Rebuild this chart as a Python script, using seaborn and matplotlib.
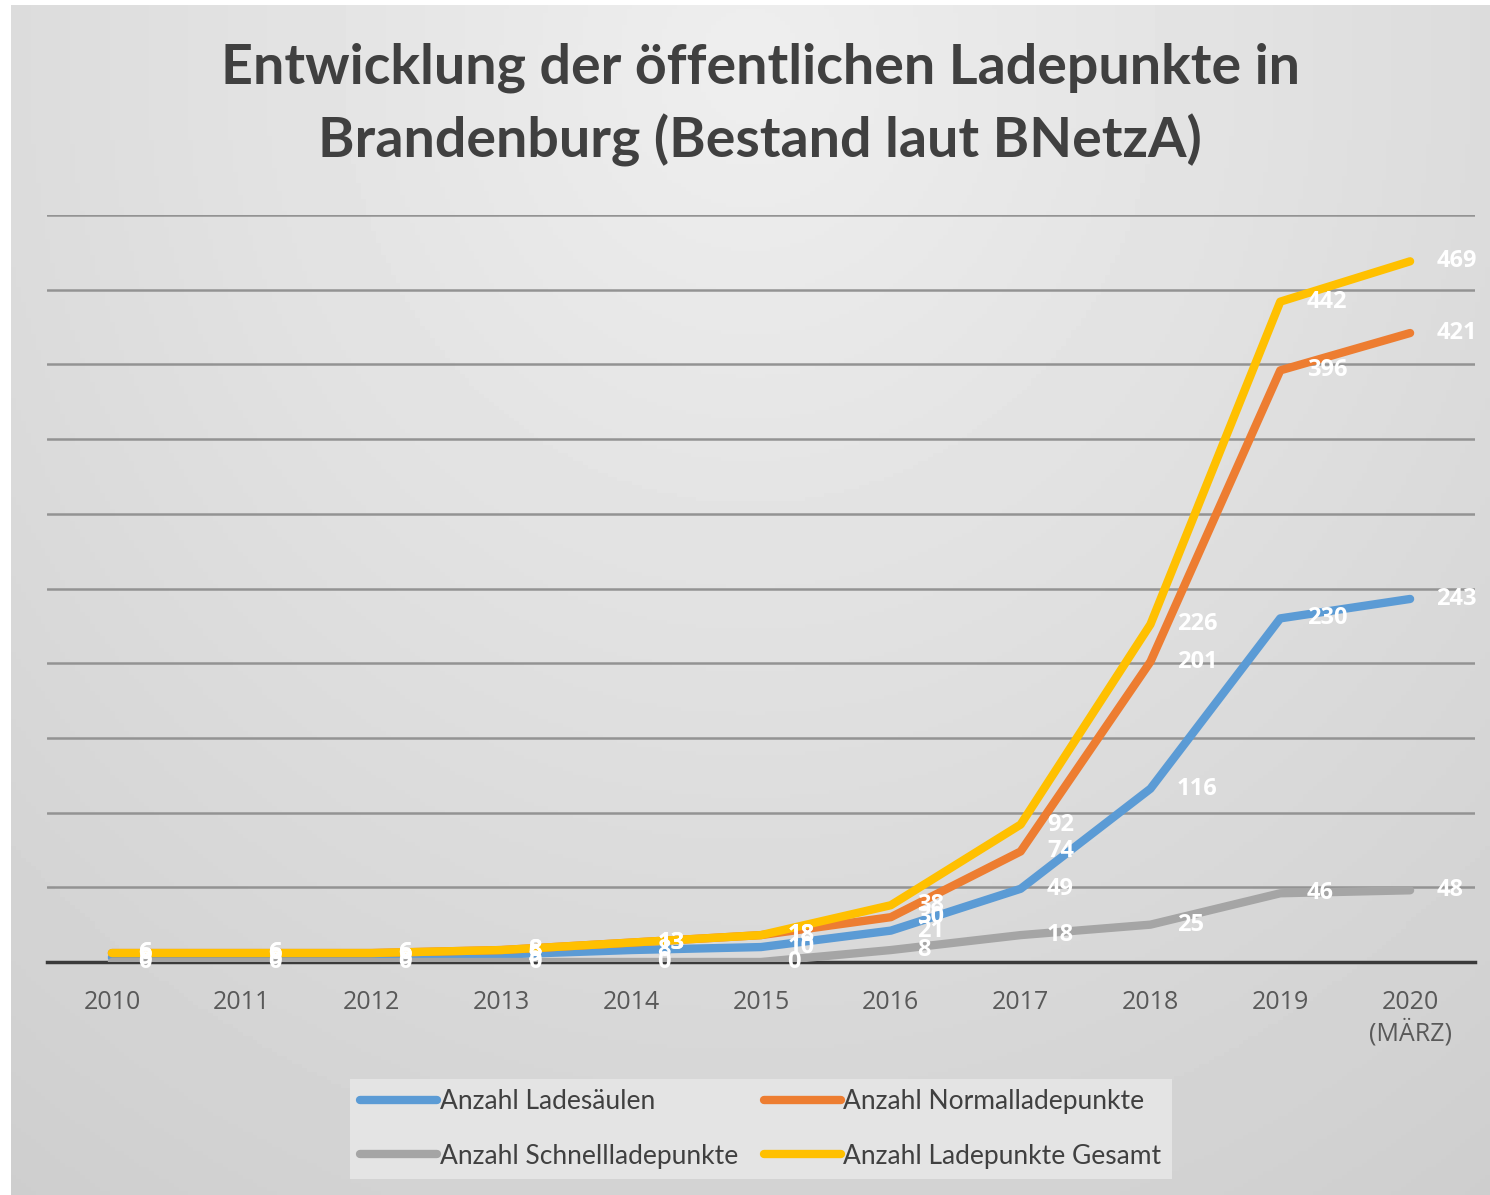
import numpy as np
import pandas as pd
import matplotlib
matplotlib.use("Agg")
import matplotlib.pyplot as plt
import seaborn as sns
from matplotlib import font_manager
from matplotlib.lines import Line2D

# ---------------- data ----------------
years = ["2010", "2011", "2012", "2013", "2014", "2015", "2016", "2017", "2018", "2019", "2020\n(MÄRZ)"]
ladesaeulen = [3, 3, 3, 5, 8, 10, 21, 49, 116, 230, 243]
normal = [6, 6, 6, 8, 13, 18, 30, 74, 201, 396, 421]
schnell = [0, 0, 0, 0, 0, 0, 8, 18, 25, 46, 48]
gesamt = [6, 6, 6, 8, 13, 18, 38, 92, 226, 442, 469]
series_names = ["Anzahl Ladesäulen", "Anzahl Normalladepunkte",
                "Anzahl Schnellladepunkte", "Anzahl Ladepunkte Gesamt"]
series_values = [ladesaeulen, normal, schnell, gesamt]
colors = ["#5B9BD5", "#ED7D31", "#A5A5A5", "#FFC000"]
title_lines = ["Entwicklung der öffentlichen Ladepunkte in",
               "Brandenburg (Bestand laut BNetzA)"]

sns.set_style("white")
avail = {f.name for f in font_manager.fontManager.ttflist}
narrow = "Liberation Sans Narrow" if "Liberation Sans Narrow" in avail else "Lato"
plt.rcParams["font.family"] = ["Open Sans", "DejaVu Sans"]

W, H = 1490, 1195
fig = plt.figure(figsize=(W / 100, H / 100), dpi=100)
fig.patch.set_facecolor("white")

# background gradient panel
bg = fig.add_axes([11 / W, 0, 1 - 11 / W, (H - 5) / H], zorder=-10)
gx, gy = np.meshgrid(np.linspace(0, 1, 300), np.linspace(0, 1, 300))
r = np.sqrt(((gx - 0.5) / 0.75) ** 2 + ((gy - 0.05) / 1.0) ** 2)
val = np.clip(0.935 - 0.11 * r, 0.78, 0.95)
bg.imshow(val, cmap="gray", vmin=0, vmax=1, aspect="auto", extent=(0, 1, 1, 0))
bg.set_axis_off()

# main axes
left, right = 47 / W, 1475 / W
bottom, top = (H - 962) / H, (H - 215) / H
ax = fig.add_axes([left, bottom, right - left, top - bottom])
ax.patch.set_alpha(0)

df = pd.DataFrame({
    "x": np.tile(np.arange(len(years)), len(series_names)),
    "value": np.concatenate(series_values),
    "series": np.repeat(series_names, len(years)),
})
sns.lineplot(data=df, x="x", y="value", hue="series", hue_order=series_names,
             palette=colors, linewidth=6, ax=ax, legend=False,
             solid_capstyle="round", solid_joinstyle="round", zorder=3)

ax.set_xlim(-0.5, len(years) - 0.5)
ax.set_ylim(0, 500)
ax.set_yticks(np.arange(0, 501, 50))
ax.yaxis.grid(True, color="#939393", linewidth=1.8)
ax.set_axisbelow(True)
ax.set_yticklabels([])
ax.tick_params(axis="y", length=0)
ax.set_xticks(np.arange(len(years)))
ax.set_xticklabels(years, fontsize=18, color="#595959", linespacing=1.2)
ax.tick_params(axis="x", length=0, pad=20)
for s in ["top", "right", "left"]:
    ax.spines[s].set_visible(False)
ax.spines["bottom"].set_color("#3a3a3a")
ax.spines["bottom"].set_linewidth(2.5)
ax.set_xlabel("")
ax.set_ylabel("")

# data labels
for vals in series_values:
    for i, v in enumerate(vals):
        ax.annotate(str(v), (i, v), xytext=(19, 0), textcoords="offset points",
                    ha="left", va="center", color="white", fontsize=17,
                    fontweight="bold", zorder=5, annotation_clip=False)

# title
fig.text(760 / W, 1 - 68 / H, title_lines[0], ha="center", va="center",
         fontsize=40, fontweight="bold", color="#404040", family=[narrow, "DejaVu Sans"])
fig.text(760 / W, 1 - 140 / H, title_lines[1], ha="center", va="center",
         fontsize=40, fontweight="bold", color="#404040", family=[narrow, "DejaVu Sans"])

# legend (row order: blue, orange / gray, yellow)
order = [0, 2, 1, 3]
handles = [Line2D([], [], color=colors[k], linewidth=6, solid_capstyle="round") for k in order]
labels = [series_names[k] for k in order]
leg = fig.legend(handles, labels, ncol=2, loc="center", bbox_to_anchor=(761 / W, 1 - 1129 / H),
                 frameon=True, facecolor="#e4e4e4", edgecolor="none", framealpha=1,
                 prop={"family": [narrow, "DejaVu Sans"], "size": 19},
                 handlelength=2.9, handletextpad=0.1, columnspacing=1.0,
                 labelspacing=1.1, borderpad=0.4, fancybox=False)
for t in leg.get_texts():
    t.set_color("#404040")

fig.savefig("out.png", dpi=100)
